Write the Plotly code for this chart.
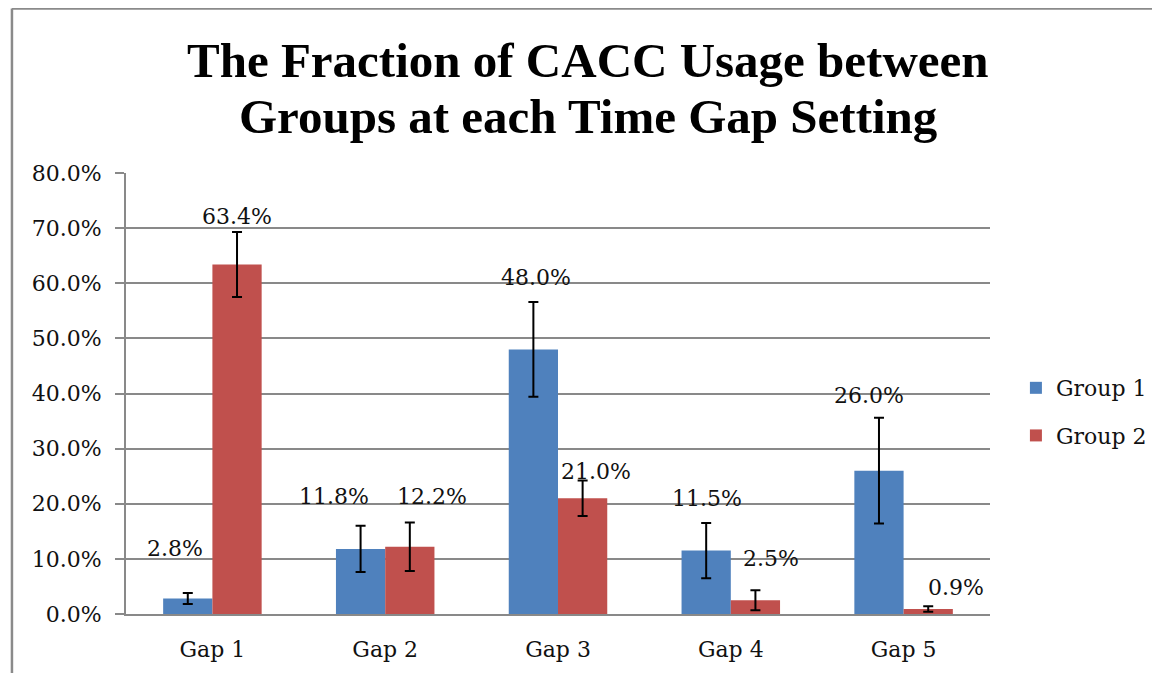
import plotly.graph_objects as go

categories = ["Gap 1", "Gap 2", "Gap 3", "Gap 4", "Gap 5"]
group1 = [2.8, 11.8, 48.0, 11.5, 26.0]
group2 = [63.4, 12.2, 21.0, 2.5, 0.9]
group1_err = [1.0, 4.2, 8.6, 5.0, 9.6]
group2_err = [5.9, 4.4, 3.2, 1.8, 0.5]
y_ticks = [0, 10, 20, 30, 40, 50, 60, 70, 80]
title_lines = ["The Fraction of CACC Usage between", "Groups at each Time Gap Setting"]

# label offsets in pixels (style): (dx, dy) from bar top center
g1_label_shift = [(-13, 50), (-27, 52), (3, 72), (1, 52), (-10, 75)]
g2_label_shift = [(0, 48), (22, 50), (13, 27), (15, 42), (28, 22)]

SERIF = "Liberation Serif"
NUMF = "DejaVu Serif"
BLUE = "#4F81BD"
RED = "#C0504D"
GRID = "#898989"
TXT = "#111111"

fig = go.Figure()
fig.add_trace(go.Bar(
    name="Group 1", x=categories, y=group1, marker_color=BLUE,
    marker_line_width=0, legendgroup="g1",
    error_y=dict(type="data", array=group1_err, color="black", thickness=2, width=5),
))
fig.add_trace(go.Bar(
    name="Group 2", x=categories, y=group2, marker_color=RED,
    marker_line_width=0, legendgroup="g2",
    error_y=dict(type="data", array=group2_err, color="black", thickness=2, width=5),
))

BAR_OFF = 24.7
for vals, shifts, off in ((group1, g1_label_shift, -BAR_OFF), (group2, g2_label_shift, BAR_OFF)):
    for c, v, (dx, dy) in zip(categories, vals, shifts):
        fig.add_annotation(
            x=c, y=v, text=f"{v:.1f}%", showarrow=False,
            xshift=off + dx, yshift=dy, xanchor="center", yanchor="middle",
            font=dict(family=NUMF, size=22, color=TXT),
        )

# title as two lines
for line, ty in zip(title_lines, (1.254, 1.129)):
    fig.add_annotation(
        xref="paper", yref="paper", x=0.535, y=ty, text=f"<b>{line}</b>",
        showarrow=False, xanchor="center", yanchor="middle",
        font=dict(family=SERIF, size=49, color="black"),
    )

# outer chart border (cropped)
fig.add_shape(type="line", xref="paper", yref="paper", x0=-0.132, x1=1.25, y0=1.373, y1=1.373,
              line=dict(color="#8a8a8a", width=2.5))
fig.add_shape(type="line", xref="paper", yref="paper", x0=-0.132, x1=-0.132, y0=1.373, y1=-0.2,
              line=dict(color="#8a8a8a", width=2.5))

fig.update_layout(
    width=1160, height=673,
    margin=dict(l=118, r=178, t=165, b=67),
    paper_bgcolor="white", plot_bgcolor="white",
    barmode="group", bargap=0.43, bargroupgap=0,
    legend=dict(
        x=1.03, y=0.458, xanchor="left", yanchor="middle",
        font=dict(family=NUMF, size=22, color=TXT),
        tracegroupgap=16, traceorder="grouped",
    ),
    showlegend=True,
)
fig.update_yaxes(
    range=[0, 80], tickvals=y_ticks, ticktext=[f"{t:.1f}%" for t in y_ticks],
    showgrid=True, gridcolor=GRID, gridwidth=2,
    showline=True, linecolor=GRID, linewidth=2,
    ticks="outside", ticklen=9, tickcolor=GRID, tickwidth=2,
    tickfont=dict(family=NUMF, size=22, color=TXT),
    ticklabelstandoff=9,
    zeroline=False,
)
fig.update_xaxes(
    showline=True, linecolor=GRID, linewidth=2, ticks="",
    tickfont=dict(family=NUMF, size=22, color=TXT),
    ticklabelstandoff=15,
)

fig.write_html("out.html")
